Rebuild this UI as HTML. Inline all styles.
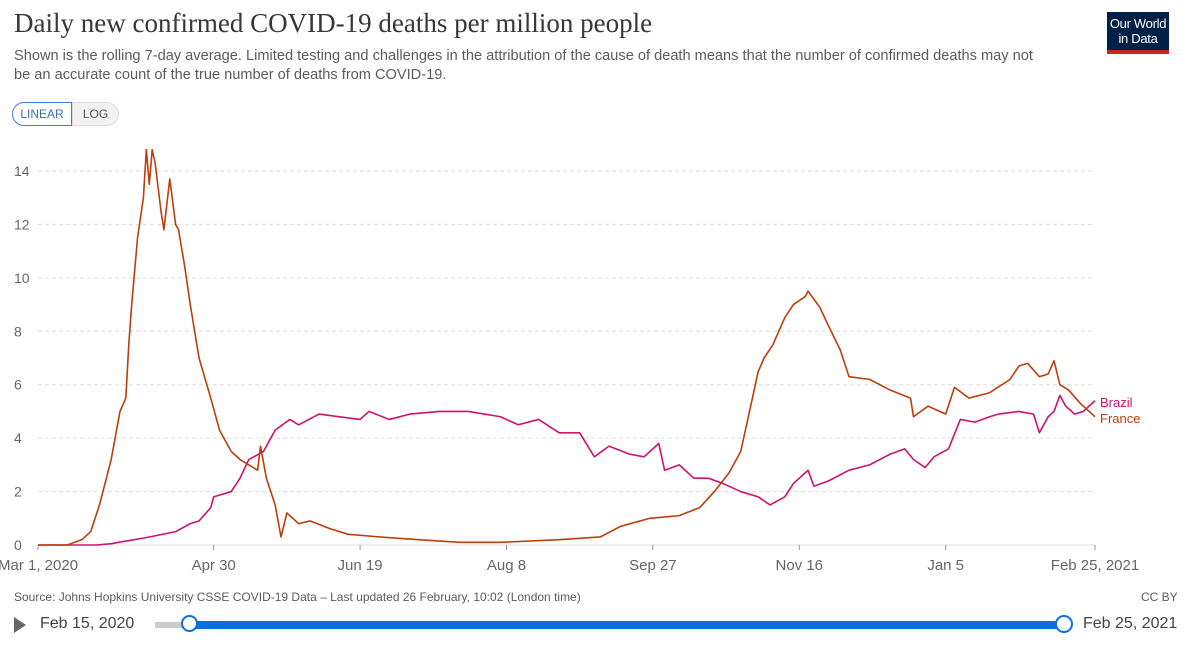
<!DOCTYPE html>
<html><head><meta charset="utf-8">
<style>
body{margin:0;width:1200px;height:647px;background:#fff;font-family:"Liberation Sans",sans-serif;overflow:hidden;position:relative}
.t{position:absolute;white-space:nowrap}
</style></head><body>
<div class="t" style="left:14px;top:8px;font-family:'Liberation Serif',serif;font-size:27px;color:#373737">Daily new confirmed COVID-19 deaths per million people</div>
<div class="t" style="left:14px;top:47px;font-size:14.6px;color:#5b5b5b;line-height:19px">Shown is the rolling 7-day average. Limited testing and challenges in the attribution of the cause of death means that the number of confirmed deaths may not<br>be an accurate count of the true number of deaths from COVID-19.</div>
<div style="position:absolute;left:1107px;top:12px;width:62px;height:42px;background:#002147;border-bottom:4px solid #ce261e;color:#fff;font-size:13px;text-align:center;line-height:15px;padding-top:4px;box-sizing:border-box;white-space:nowrap;letter-spacing:-0.3px">Our World<br>in Data</div>
<div style="position:absolute;left:12px;top:102px;width:60px;height:24px;border:1px solid #3b7ddd;border-radius:12px 0 0 12px;color:#3b6fb6;font-size:12px;line-height:22px;text-align:center;box-sizing:border-box">LINEAR</div>
<div style="position:absolute;left:72px;top:102px;width:47px;height:24px;background:#f2f2f2;border:1px solid #ddd;border-radius:0 12px 12px 0;color:#555;font-size:12px;line-height:22px;text-align:center;box-sizing:border-box">LOG</div>
<svg id="chart" width="1200" height="647" style="position:absolute;left:0;top:0"></svg>
<div class="t" style="left:14px;top:590px;font-size:12px;color:#5b5b5b">Source: Johns Hopkins University CSSE COVID-19 Data – Last updated 26 February, 10:02 (London time)</div>
<div class="t" style="left:1141px;top:590px;font-size:12px;color:#5b5b5b">CC BY</div>
<div style="position:absolute;left:14px;top:617px;width:0;height:0;border-left:12px solid #666;border-top:8px solid transparent;border-bottom:8px solid transparent"></div>
<div class="t" style="left:40px;top:615px;font-size:16px;color:#444">Feb 15, 2020</div>
<div style="position:absolute;left:155px;top:622px;width:35px;height:6px;background:#ccc"></div>
<div style="position:absolute;left:190px;top:621px;width:875px;height:8px;background:#0d6fdb"></div>
<div style="position:absolute;left:181px;top:615px;width:17px;height:17px;border:2px solid #0d6fdb;border-radius:50%;background:#fff;box-sizing:border-box"></div>
<div style="position:absolute;left:1055px;top:615px;width:18px;height:18px;border:2px solid #0d6fdb;border-radius:50%;background:#fff;box-sizing:border-box"></div>
<div class="t" style="left:1083px;top:615px;font-size:16px;color:#444">Feb 25, 2021</div>
<script>
const yTicks=[0,2,4,6,8,10,12,14];
const xTickDays=[0,60,110,160,210,260,310,361];
const xTickLabels=["Mar 1, 2020","Apr 30","Jun 19","Aug 8","Sep 27","Nov 16","Jan 5","Feb 25, 2021"];
const franceDays=[0,10,15,18,21,25,28,30,31,32,34,36,37,38,39,40,42,43,45,47,48,50,52,55,59,62,66,69,72,75,76,78,81,83,85,89,93,100,106,117,130,144,158,178,192,199,209,219,226,231,236,240,243,246,248,251,255,258,262,263,267,270,274,277,284,291,298,299,304,310,313,318,325,332,335,338,342,345,347,349,352,356,359,361];
const franceVals=[0,0,0.2,0.5,1.5,3.2,5,5.5,7.5,9,11.5,13,14.8,13.5,14.8,14.3,12.5,11.8,13.7,12,11.8,10.5,9,7,5.5,4.3,3.5,3.2,3,2.8,3.7,2.5,1.5,0.3,1.2,0.8,0.9,0.6,0.4,0.3,0.2,0.1,0.1,0.2,0.3,0.7,1.0,1.1,1.4,2.0,2.7,3.5,5,6.5,7,7.5,8.5,9.0,9.3,9.5,8.9,8.2,7.3,6.3,6.2,5.8,5.5,4.8,5.2,4.9,5.9,5.5,5.7,6.2,6.7,6.8,6.3,6.4,6.9,6.0,5.8,5.3,5.0,4.8];
const brazilDays=[0,20,25,38,47,52,55,59,60,66,69,72,77,81,86,89,96,103,110,113,120,127,137,147,158,164,171,178,185,190,195,202,207,212,214,219,224,229,234,240,246,250,255,258,263,265,270,277,284,291,296,299,303,306,311,315,320,325,328,335,340,342,345,347,349,351,354,357,361];
const brazilVals=[0,0,0.05,0.3,0.5,0.8,0.9,1.4,1.8,2.0,2.5,3.2,3.5,4.3,4.7,4.5,4.9,4.8,4.7,5.0,4.7,4.9,5.0,5.0,4.8,4.5,4.7,4.2,4.2,3.3,3.7,3.4,3.3,3.8,2.8,3.0,2.5,2.5,2.3,2.0,1.8,1.5,1.8,2.3,2.8,2.2,2.4,2.8,3.0,3.4,3.6,3.2,2.9,3.3,3.6,4.7,4.6,4.8,4.9,5.0,4.9,4.2,4.8,5.0,5.6,5.2,4.9,5.0,5.4];
const NS="http://www.w3.org/2000/svg";
const svg=document.getElementById('chart');
const X=d=>38+d*(1057/361);
const Y=v=>545-v*(374/14);
function mk(tag,attrs){const e=document.createElementNS(NS,tag);for(const k in attrs)e.setAttribute(k,attrs[k]);svg.appendChild(e);return e;}
yTicks.forEach(v=>{
  const l=mk('line',{x1:38,x2:1095,y1:Y(v),y2:Y(v),stroke:'#ddd','stroke-dasharray':v?'4,3':'none'});
  
  
  const t=mk('text',{x:14,y:Y(v)+5,'font-size':14,fill:'#666'});
  t.textContent=v;
  
  
});
xTickDays.forEach((d,i)=>{
  const tk=mk('line',{x1:X(d),x2:X(d),y1:545,y2:550,stroke:'#999'});
  
  
  const t=mk('text',{x:X(d),y:570,'font-size':15,fill:'#666','text-anchor':'middle'});
  t.textContent=xTickLabels[i];
  
  
});
function line(days,vals,color,name){
  const p=mk('polyline',{points:days.map((d,i)=>X(d)+','+Y(vals[i])).join(' '),fill:'none',stroke:color,'stroke-width':1.6,'stroke-linejoin':'round'});
  
  
}
line(brazilDays,brazilVals,'#d1106f','brazil-line');
line(franceDays,franceVals,'#b9400a','france-line');
const lb=mk('text',{x:1100,y:407,'font-size':13,fill:'#d1106f'});lb.textContent='Brazil';


const lf=mk('text',{x:1100,y:423,'font-size':13,fill:'#b9400a'});lf.textContent='France';


</script>
</body></html>
